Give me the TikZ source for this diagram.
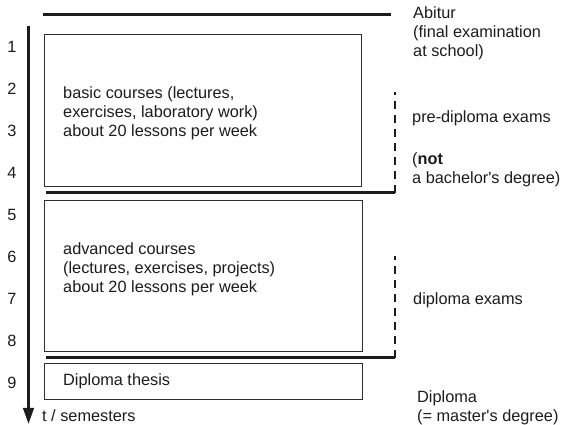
\documentclass[tikz,border=0pt]{standalone}
\usepackage{fontspec}
\setmainfont{Liberation Sans}
\usepackage{tikz}
\usetikzlibrary{arrows.meta}
\definecolor{planInk}{HTML}{1C1C1C}
\definecolor{planFrame}{HTML}{2E2E2E}
\tikzset{
    plan/box/.style={
        rectangle, draw=planFrame, line width=1.1pt,
        inner sep=0pt, anchor=north west
    },
    plan/text/.style={
        text=planInk, align=left, inner sep=0pt,
        font=\fontsize{16.3}{19.2}\selectfont
    },
    plan/number/.style={
        plan/text, anchor=center
    },
    plan/axis/.style={
        draw=planInk, line width=2.6pt,
        -{Triangle[length=16pt,width=10.5pt]}
    },
    plan/bar/.style={
        draw=planInk, line width=3pt
    },
    plan/exam/.style={
        draw=planInk, line width=2.6pt, dash pattern=on 8pt off 6pt
    }
}
\begin{document}
\begin{tikzpicture}[x=1pt, y=-1pt]
    \useasboundingbox (0,0) rectangle (566,425);

    % time axis
    \coordinate (axisTop) at (28.5,26);
    \coordinate (axisEnd) at (28.5,424);
    \draw[plan/axis] (axisTop) -- (axisEnd);
    \foreach \n in {1,...,9}
        \node[plan/number] (sem\n) at (12,{46.5+42.06*(\n-1)}) {\n};
    \node[plan/text, anchor=west] (axisLabel) at (42,416) {t / semesters};

    % study periods
    \node[plan/box, minimum width=317pt, minimum height=152pt]
        (basic) at (44,34) {};
    \node[plan/text, anchor=west] (basicText) at (63,113)
        {basic courses (lectures,\\exercises, laboratory work)\\about 20 lessons per week};
    \node[plan/box, minimum width=318pt, minimum height=151pt]
        (advanced) at (44,200) {};
    \node[plan/text, anchor=west] (advancedText) at (63,269)
        {advanced courses\\(lectures, exercises, projects)\\about 20 lessons per week};
    \node[plan/box, minimum width=318pt, minimum height=36pt]
        (thesis) at (44,363) {};
    \node[plan/text, anchor=west] (thesisText) at (63,381) {Diploma thesis};

    % exams
    \coordinate (abiturL) at (43,15);
    \coordinate (abiturR) at (391,15);
    \draw[plan/bar] (abiturL) -- (abiturR);
    \coordinate (preL) at (46,193);
    \coordinate (preCorner) at (395,193);
    \coordinate (preTop) at (395,92);
    \draw[plan/bar] (preL) -- (preCorner);
    \draw[plan/exam] (preCorner) -- (preTop);
    \coordinate (dipL) at (46,358);
    \coordinate (dipCorner) at (395,358);
    \coordinate (dipTop) at (395,256);
    \draw[plan/bar] (dipL) -- (dipCorner);
    \draw[plan/exam] (dipCorner) -- (dipTop);

    % labels on the right
    \node[plan/text, anchor=west] (abitur) at (413,33)
        {Abitur\\(final examination\\at school)};
    \node[plan/text, anchor=west] (preExam) at (412,118) {pre-diploma exams};
    \node[plan/text, anchor=west] (notBachelor) at (412,170)
        {(\textbf{not}\\a bachelor\textquotesingle s degree)};
    \node[plan/text, anchor=west] (dipExam) at (413,300) {diploma exams};
    \node[plan/text, anchor=west] (diploma) at (417,408)
        {Diploma\\(= master\textquotesingle s degree)};
\end{tikzpicture}
\end{document}
